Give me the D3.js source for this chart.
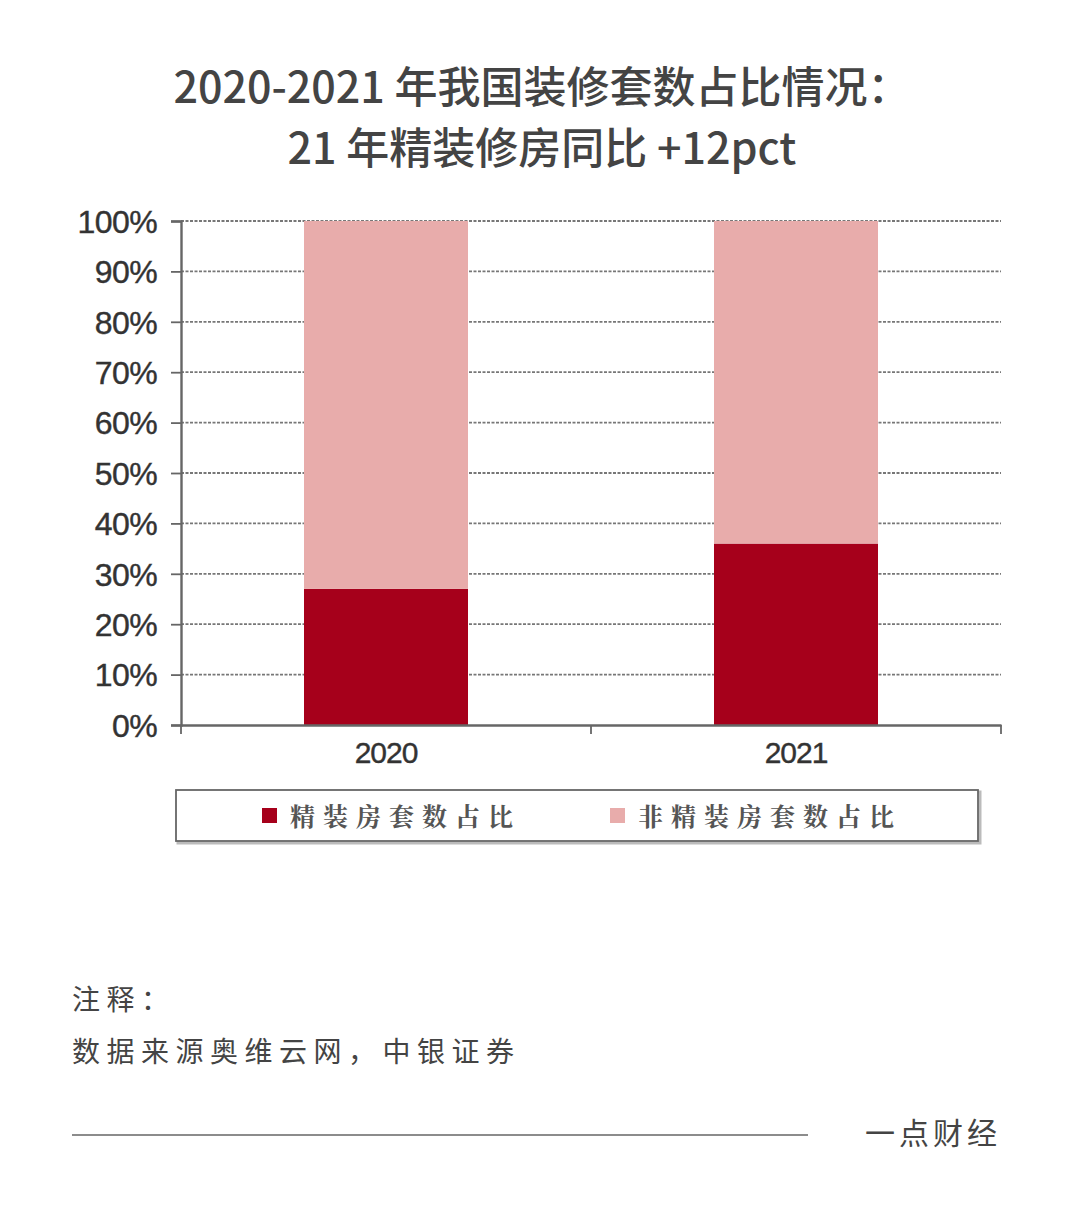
<!DOCTYPE html>
<html><head><meta charset="utf-8">
<script src="https://cdn.jsdelivr.net/npm/d3@7"></script>
<style>body{margin:0;background:#fff;}</style>
</head><body>
<svg id="c" width="1080" height="1213"></svg>
<script>
const categories = ["2020", "2021"];
const seriesNames = ["精装房套数占比", "非精装房套数占比"];
const finished = [27, 36];
const unfinished = [73, 64];
const yTicks = [0,10,20,30,40,50,60,70,80,90,100];
const titleLines = ["2020-2021 年我国装修套数占比情况：", "21 年精装修房同比 +12pct"];
const notes = ["注释：", "数据来源奥维云网，中银证券"];
const brand = "一点财经";

const colors = ["#a6001b", "#e8acab"];
const svg = d3.select("#c");
const cjk = "'Noto Sans CJK SC', 'Noto Sans', sans-serif";

svg.selectAll("text.title").data(titleLines).enter().append("text")
  .attr("x", 542).attr("y", (d,i)=>103 + i*61)
  .attr("text-anchor","middle").attr("font-family",cjk).attr("font-size",43)
  .attr("font-weight",500).attr("fill","#444").text(d=>d);

const pL = 181, pR = 1001, pT = 221, pB = 725;
const x = d3.scaleBand().domain(categories).range([pL,pR]).paddingInner(0.6).paddingOuter(0.3);
const y = d3.scaleLinear().domain([0,100]).range([pB,pT]);

// gridlines
svg.append("g").selectAll("line").data(yTicks.filter(t=>t>0)).enter().append("line")
  .attr("x1", pL).attr("x2", pR).attr("y1", d=>y(d)).attr("y2", d=>y(d))
  .attr("stroke","#777").attr("stroke-width",1.8).attr("stroke-dasharray","3,1.5");

// stacked bars
const stackData = categories.map((c,i)=>({cat:c, a:finished[i], b:unfinished[i]}));
const stack = d3.stack().keys(["a","b"])(stackData);
svg.append("g").selectAll("g").data(stack).enter().append("g")
  .attr("fill",(d,i)=>colors[i])
  .selectAll("rect").data(d=>d).enter().append("rect")
  .attr("x", d=>x(d.data.cat)).attr("width", x.bandwidth())
  .attr("y", d=>y(d[1])).attr("height", d=>y(d[0])-y(d[1]));

// y axis
const yAxis = svg.append("g").attr("transform",`translate(${pL},0)`)
  .call(d3.axisLeft(y).tickValues(yTicks).tickFormat(d=>d+"%").tickSize(10).tickPadding(14));
yAxis.select(".domain").attr("stroke","#666").attr("stroke-width",2.4);
yAxis.selectAll(".tick line").attr("stroke","#666").attr("stroke-width",1.8);
yAxis.selectAll("text").attr("font-family","'Liberation Sans', Arial, sans-serif")
  .attr("font-size",32).attr("fill","#333").attr("stroke","#333").attr("stroke-width",0.4)
  .attr("dy","0.35em").attr("letter-spacing","-0.6");

// x axis
const xAxis = svg.append("g").attr("transform",`translate(0,${pB})`)
  .call(d3.axisBottom(x).tickSize(0).tickPadding(16));
xAxis.select(".domain").attr("stroke","#666").attr("stroke-width",2.4);
xAxis.selectAll("text").attr("font-family","'Liberation Sans', Arial, sans-serif")
  .attr("font-size",30).attr("fill","#333").attr("stroke","#333").attr("stroke-width",0.4)
  .attr("dy","0.72em").attr("letter-spacing","-1");
// boundary ticks
const bTicks = [pL, (pL+pR)/2, pR];
svg.append("g").selectAll("line").data(bTicks).enter().append("line")
  .attr("x1",d=>d).attr("x2",d=>d).attr("y1",pB).attr("y2",pB+9)
  .attr("stroke","#666").attr("stroke-width",1.8);

// legend
const lg = svg.append("g");
lg.append("rect").attr("x",178).attr("y",792).attr("width",802).attr("height",51)
  .attr("fill","none").attr("stroke","#bbb").attr("stroke-width",3);
lg.append("rect").attr("x",176).attr("y",790).attr("width",802).attr("height",51)
  .attr("fill","#fff").attr("stroke","#666").attr("stroke-width",1.8);
const legX = [262, 610];
const items = lg.selectAll("g.it").data(seriesNames).enter().append("g")
  .attr("transform",(d,i)=>`translate(${legX[i]},808)`);
items.append("rect").attr("width",15).attr("height",15).attr("fill",(d,i)=>colors[i]);
items.append("text").attr("x",28).attr("y",8).attr("dy","0.38em")
  .attr("font-family","'Noto Serif CJK SC', "+cjk).attr("font-size",25).attr("letter-spacing",8)
  .attr("font-weight",700).attr("fill","#555").text(d=>d);

// notes
svg.selectAll("text.note").data(notes).enter().append("text")
  .attr("x",72).attr("y",(d,i)=>1010 + i*52)
  .attr("font-family",cjk).attr("font-size",28).attr("fill","#444").attr("letter-spacing",6.5).text(d=>d);

svg.append("line").attr("x1",72).attr("x2",808).attr("y1",1135).attr("y2",1135)
  .attr("stroke","#666").attr("stroke-width",1.5);
svg.append("text").attr("x",1001).attr("y",1144).attr("text-anchor","end")
  .attr("font-family",cjk).attr("font-size",30).attr("fill","#444").attr("letter-spacing",4).text(brand);
</script>
</body></html>
